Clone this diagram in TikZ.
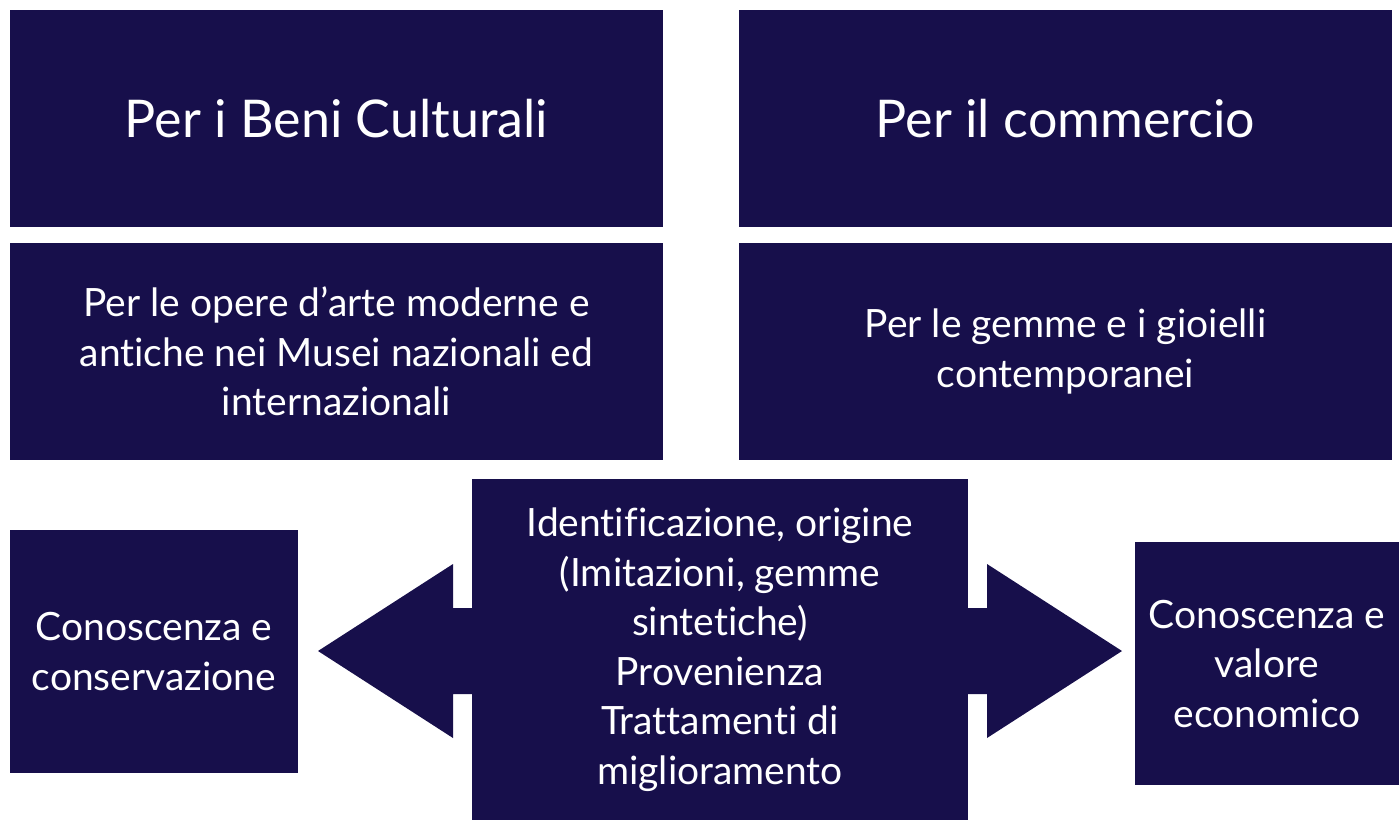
\documentclass[tikz,border=0pt]{standalone}
\usepackage{fontspec}
\setmainfont[Ligatures={NoCommon,NoRequired,NoContextual}]{Lato}
\usepackage{tikz}

\definecolor{navy}{RGB}{23,15,75}

\begin{document}
\begin{tikzpicture}[x=1pt, y=-1pt,
    box/.style={fill=navy, text=white, align=center, inner sep=0pt},
    bigtext/.style={font=\fontsize{52}{64}\selectfont},
    smalltext/.style={font=\fontsize{39}{49.5}\selectfont}]
        \useasboundingbox (0, 0) rectangle (1399, 820);

        % double arrow behind the middle box
        \fill [navy] (318, 651) -- (453, 564) -- (453, 608) -- (987, 608) -- (987, 564)
            -- (1122, 651) -- (987, 738) -- (987, 694) -- (453, 694) -- (453, 738) -- cycle;

        \node [box, bigtext, minimum width=653, minimum height=217] (beni) at (336.5, 118.5) {Per i Beni Culturali};
        \node [box, bigtext, minimum width=653, minimum height=217] (comm) at (1065.5, 118.5) {Per il commercio};

        \node [box, smalltext, minimum width=653, minimum height=217] (opere) at (336.5, 351.5)
            {Per le opere d’arte moderne e\\ antiche nei Musei nazionali ed\\ internazionali};
        \node [box, smalltext, minimum width=653, minimum height=217] (gemme) at (1065.5, 351.5)
            {Per le gemme e i gioielli\\ contemporanei};

        \node [box, smalltext, minimum width=288, minimum height=243] (cons) at (154, 651.5)
            {Conoscenza e\\ conservazione};
        \node [box, smalltext, minimum width=496, minimum height=341] (ident) at (720, 649.5)
            {Identificazione, origine\\ (Imitazioni, gemme\\ sintetiche)\\ Provenienza\\ Trattamenti di\\ miglioramento};
        \node [box, smalltext, minimum width=264, minimum height=243] (valore) at (1267, 663.5)
            {Conoscenza e\\ valore\\ economico};
      \end{tikzpicture}
\end{document}
